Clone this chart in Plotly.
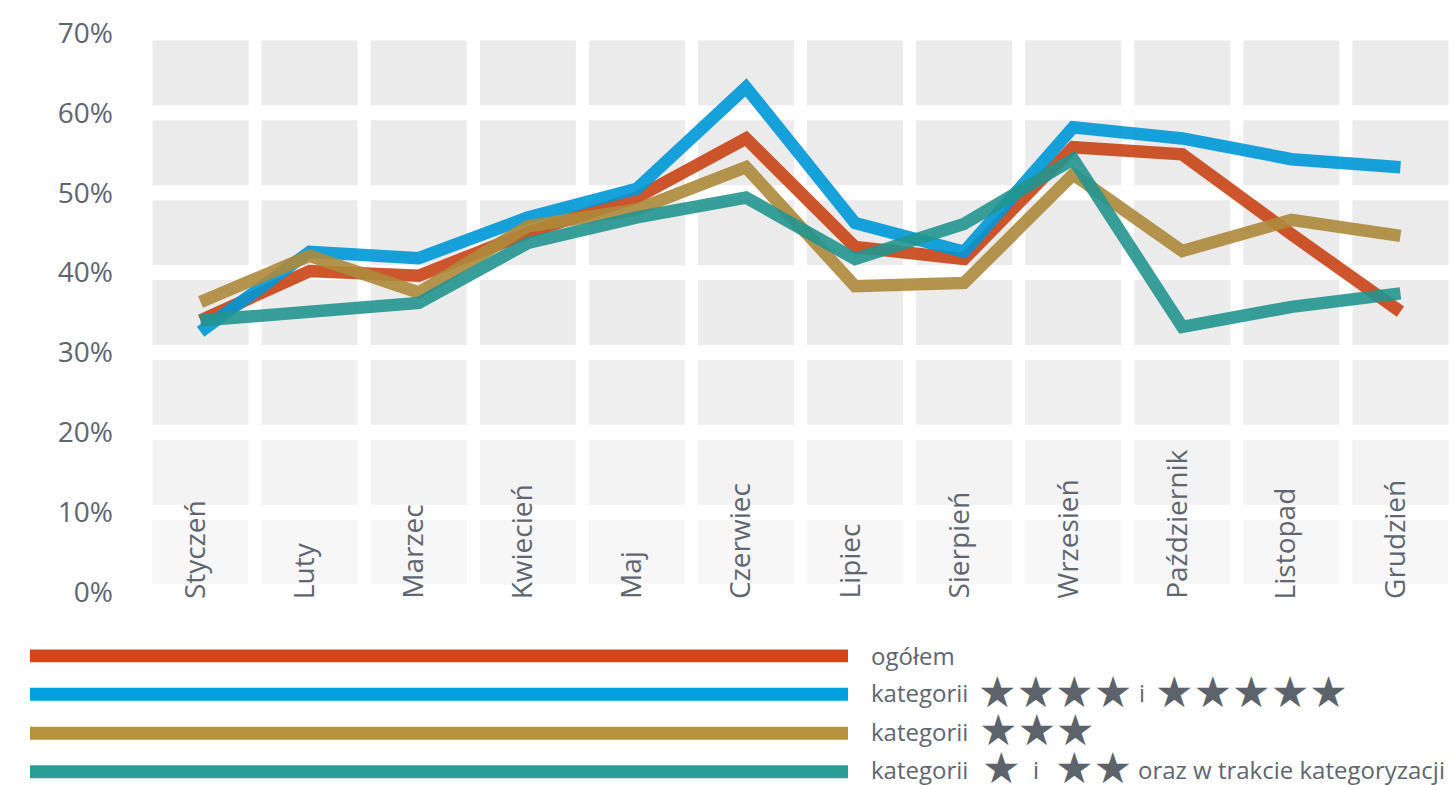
import plotly.graph_objects as go

months = ["Styczeń", "Luty", "Marzec", "Kwiecień", "Maj", "Czerwiec",
          "Lipiec", "Sierpień", "Wrzesień", "Październik", "Listopad", "Grudzień"]

ogolem = [34.0, 40.2, 39.6, 45.0, 49.4, 56.8, 43.2, 41.7, 55.7, 54.8, 44.8, 35.1]
kat_45 = [32.6, 42.6, 41.8, 46.9, 50.5, 63.2, 46.2, 42.6, 58.2, 56.8, 54.2, 53.2]
kat_3 = [36.3, 42.1, 37.5, 45.8, 47.9, 53.2, 38.3, 38.7, 52.3, 42.7, 46.6, 44.6]
kat_12 = [34.0, 35.2, 36.2, 43.7, 46.9, 49.4, 41.7, 46.1, 54.2, 33.2, 35.7, 37.4]

y_ticks = [0, 10, 20, 30, 40, 50, 60, 70]
y_tick_text = ["0%", "10%", "20%", "30%", "40%", "50%", "60%", "70%"]

# (name, values, legend colour, line colour)
series = [
    ("ogółem", ogolem, "#d2471a", "#c94416"),
    ("kategorii 4-5", kat_45, "#009fe0", "#0098d8"),
    ("kategorii 3", kat_3, "#b8913f", "#ae8a3b"),
    ("kategorii 1-2", kat_12, "#2a9d97", "#239590"),
]

W, H = 1455, 785
ML, MR, MT, MB = 146, 0, 32.5, 192.5
PW, PH = W - ML - MR, H - MT - MB


def px_x(px):
    return (px - ML) / PW


def px_y(py):
    return (H - MB - py) / PH


TEXT = "#5f6670"
FONT = "Open Sans"

fig = go.Figure()
x_idx = list(range(len(months)))
for name, vals, lcol, col in series:
    fig.add_trace(go.Scatter(x=x_idx, y=vals, mode="lines", name=name,
                             line=dict(color=col, width=12.5), opacity=0.9,
                             showlegend=False, hoverinfo="skip"))

shapes = []
# grey tiles
row_cols = ["#f7f7f7", "#f3f3f3", "#efefef", "#ececec", "#ebebeb", "#ebebeb", "#ebebeb"]
ins_y = 7.5 / 8.0
ins_x = 6.5 / 109.0
for r in range(7):
    for c in range(12):
        shapes.append(dict(type="rect", xref="x", yref="y", layer="below",
                           x0=c - 0.5 + ins_x, x1=c + 0.5 - ins_x,
                           y0=r * 10 + ins_y, y1=(r + 1) * 10 - ins_y,
                           fillcolor=row_cols[r], line=dict(width=0)))

# legend bars
leg_y = [656.5, 695, 734, 772.5]
for (name, vals, lcol, col), ly in zip(series, leg_y):
    shapes.append(dict(type="rect", xref="paper", yref="paper",
                       x0=px_x(30), x1=px_x(848), y0=px_y(ly + 6.5), y1=px_y(ly - 6.5),
                       fillcolor=lcol, line=dict(width=0)))

annotations = []
for i, m in enumerate(months):
    annotations.append(dict(x=i, y=0, xref="x", yref="y", text=m, textangle=-90,
                            showarrow=False, xanchor="center", yanchor="bottom",
                            yshift=-9, xshift=-7,
                            font=dict(family=FONT, size=28, color=TEXT)))

TXT_SIZE = 24
STAR_SIZE = 43


def add_text(px, py, t):
    annotations.append(dict(x=px_x(px), y=px_y(py), xref="paper", yref="paper",
                            text=t, showarrow=False, xanchor="left", yanchor="middle",
                            font=dict(family=FONT, size=TXT_SIZE, color=TEXT)))


def add_stars(px_center, py, n):
    annotations.append(dict(x=px_x(px_center), y=px_y(py), xref="paper", yref="paper",
                            text="★" * n, showarrow=False, xanchor="center", yanchor="middle",
                            font=dict(family="DejaVu Sans", size=STAR_SIZE, color="#5d636b")))


add_text(869, 656, "ogółem")
add_text(869, 693, "kategorii")
add_stars(1054.5, 693, 4)
add_text(1137, 693, "i")
add_stars(1251, 693, 5)
add_text(869, 732, "kategorii")
add_stars(1037, 731, 3)
add_text(869, 770, "kategorii")
add_stars(1001, 769, 1)
add_text(1031, 770, "i")
add_stars(1093, 769, 2)
add_text(1136, 770, "oraz w trakcie kategoryzacji")

fig.update_layout(
    width=W, height=H,
    margin=dict(l=ML, r=MR, t=MT, b=MB, pad=0),
    paper_bgcolor="white", plot_bgcolor="white",
    shapes=shapes, annotations=annotations,
    xaxis=dict(range=[-0.5, 11.5], showgrid=False, zeroline=False, showticklabels=False,
               showline=False, fixedrange=True),
    yaxis=dict(range=[0, 70], tickvals=y_ticks, ticktext=y_tick_text, showgrid=False,
               zeroline=False, showline=False, ticks="", ticklabelstandoff=32,
               tickfont=dict(family=FONT, size=28, color=TEXT), fixedrange=True),
)

fig.write_html("out.html", config={"displayModeBar": False},
               post_script="document.body.style.margin='0px';"
               "document.body.style.overflow='hidden';")
